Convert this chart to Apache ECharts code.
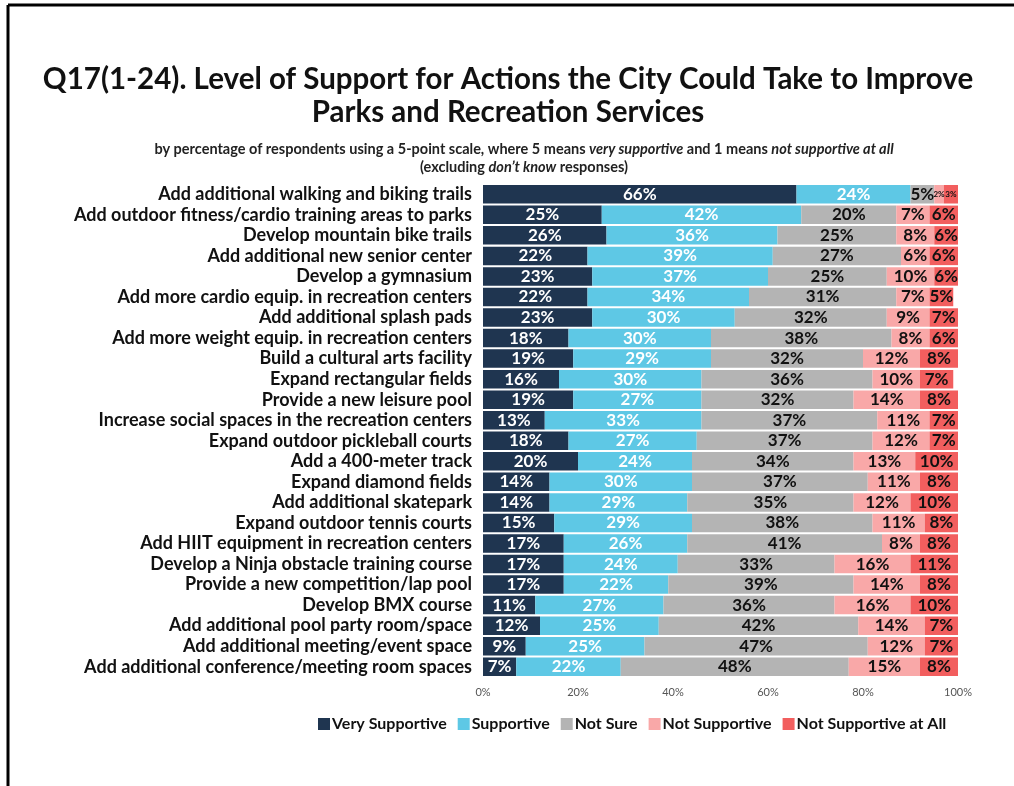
<!DOCTYPE html>
<html>
<head>
<meta charset="utf-8">
<script src="https://cdn.jsdelivr.net/npm/echarts@6/dist/echarts.min.js"></script>
<style>
  html, body { margin: 0; padding: 0; background: #fff; }
  #chart { width: 1014px; height: 786px; }
</style>
</head>
<body>
<div id="chart"></div>
<script>
// Survey actions, listed top to bottom
const categories = [
  'Add additional walking and biking trails',
  'Add outdoor fitness/cardio training areas to parks',
  'Develop mountain bike trails',
  'Add additional new senior center',
  'Develop a gymnasium',
  'Add more cardio equip. in recreation centers',
  'Add additional splash pads',
  'Add more weight equip. in recreation centers',
  'Build a cultural arts facility',
  'Expand rectangular fields',
  'Provide a new leisure pool',
  'Increase social spaces in the recreation centers',
  'Expand outdoor pickleball courts',
  'Add a 400-meter track',
  'Expand diamond fields',
  'Add additional skatepark',
  'Expand outdoor tennis courts',
  'Add HIIT equipment in recreation centers',
  'Develop a Ninja obstacle training course',
  'Provide a new competition/lap pool',
  'Develop BMX course',
  'Add additional pool party room/space',
  'Add additional meeting/event space',
  'Add additional conference/meeting room spaces'
];

// Percent of respondents per response level
const verySupportive    = [66, 25, 26, 22, 23, 22, 23, 18, 19, 16, 19, 13, 18, 20, 14, 14, 15, 17, 17, 17, 11, 12, 9, 7];
const supportive        = [24, 42, 36, 39, 37, 34, 30, 30, 29, 30, 27, 33, 27, 24, 30, 29, 29, 26, 24, 22, 27, 25, 25, 22];
const notSure           = [5, 20, 25, 27, 25, 31, 32, 38, 32, 36, 32, 37, 37, 34, 37, 35, 38, 41, 33, 39, 36, 42, 47, 48];
const notSupportive     = [2, 7, 8, 6, 10, 7, 9, 8, 12, 10, 14, 11, 12, 13, 11, 12, 11, 8, 16, 14, 16, 14, 12, 15];
const notSupportiveAtAll = [3, 6, 6, 6, 6, 5, 7, 6, 8, 7, 8, 7, 7, 10, 8, 10, 8, 8, 11, 8, 10, 7, 7, 8];

const tickLabels = ['0%', '20%', '40%', '60%', '80%', '100%'];

const seriesDefs = [
  { name: 'Very Supportive', values: verySupportive, color: '#1f3550', text: '#ffffff' },
  { name: 'Supportive', values: supportive, color: '#5ec8e5', text: '#ffffff' },
  { name: 'Not Sure', values: notSure, color: '#b4b4b4', text: '#111111' },
  { name: 'Not Supportive', values: notSupportive, color: '#f9a8a8', text: '#111111' },
  { name: 'Not Supportive at All', values: notSupportiveAtAll, color: '#f25e5e', text: '#111111' }
];

const FONT = 'Lato, "Open Sans", sans-serif';

const series = seriesDefs.map(function (d) {
  return {
    name: d.name,
    type: 'bar',
    stack: 'total',
    barCategoryGap: '10%',
    itemStyle: { color: d.color },
    label: {
      show: true,
      position: 'inside',
      formatter: function (p) { return p.value + '%'; },
      color: d.text,
      fontFamily: FONT,
      fontWeight: 'bold',
      fontSize: 17
    },
    data: d.values.map(function (v) {
      // very thin segments get a smaller label
      return v < 4 ? { value: v, label: { fontSize: 8 } } : v;
    })
  };
});

const chart = echarts.init(document.getElementById('chart'), null, { renderer: 'canvas' });

chart.setOption({
  backgroundColor: '#ffffff',
  animation: false,
  title: [
    {
      text: 'Q17(1-24). Level of Support for Actions the City Could Take to Improve\nParks and Recreation Services',
      left: 503,
      top: 58,
      textAlign: 'center',
      textStyle: {
        fontFamily: FONT,
        fontWeight: 'bold',
        fontSize: 29.5,
        lineHeight: 33,
        color: '#111111',
        align: 'center'
      }
    },
    {
      text: '{n|by percentage of respondents using a 5-point scale, where 5 means }{b|very supportive}{n| and 1 means }{b|not supportive at all}\n{n|(excluding }{b|don\u2019t know}{n| responses)}',
      left: 519,
      top: 135,
      textAlign: 'center',
      textStyle: {
        align: 'center',
        rich: {
          n: { fontFamily: FONT, fontSize: 14.5, color: '#222222', lineHeight: 18 },
          b: { fontFamily: FONT, fontSize: 14.5, color: '#222222', fontWeight: 'bold', fontStyle: 'italic', lineHeight: 18 }
        }
      }
    }
  ],
  legend: {
    bottom: 49,
    left: 313,
    orient: 'horizontal',
    itemWidth: 12,
    itemHeight: 12,
    itemGap: 11,
    icon: 'rect',
    textStyle: { fontFamily: FONT, fontWeight: 'bold', fontSize: 16, color: '#111111', padding: [0, 0, 0, -3] },
    data: seriesDefs.map(function (d) { return d.name; })
  },
  grid: { left: 483, right: 56, top: 184, bottom: 109, containLabel: false },
  xAxis: {
    type: 'value',
    min: 0,
    max: 100,
    interval: 20,
    axisLine: { show: false },
    axisTick: { show: false },
    splitLine: { show: false },
    axisLabel: {
      margin: 10,
      color: '#555555',
      fontFamily: FONT,
      fontSize: 11,
      formatter: function (v) { return tickLabels[v / 20]; }
    }
  },
  yAxis: {
    type: 'category',
    inverse: true,
    data: categories,
    axisLine: { show: false },
    axisTick: { show: false },
    axisLabel: {
      interval: 0,
      hideOverlap: false,
      margin: 11,
      color: '#111111',
      fontFamily: FONT,
      fontWeight: 'bold',
      fontSize: 18
    }
  },
  graphic: [
    { type: 'line', shape: { x1: 8, y1: 5, x2: 1014, y2: 5 }, style: { stroke: '#000', lineWidth: 3 } },
    { type: 'line', shape: { x1: 8, y1: 5, x2: 8, y2: 786 }, style: { stroke: '#000', lineWidth: 3 } }
  ],
  series: series
});
</script>
</body>
</html>
